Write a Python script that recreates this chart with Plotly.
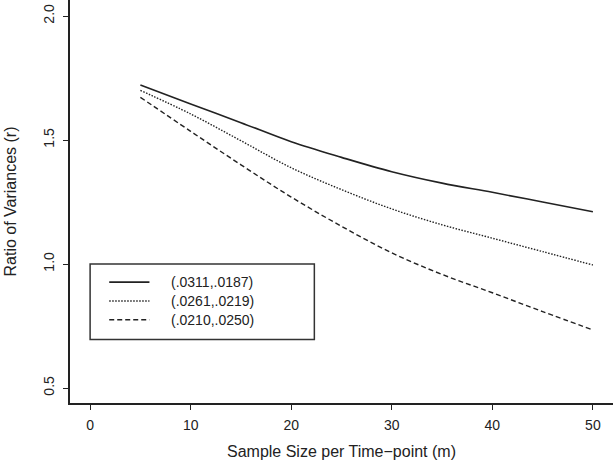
import plotly.graph_objects as go

# sample size per time-point
m = [5, 10, 15, 20, 25, 30, 35, 40, 45, 50]

# ratio of variances for each parameter pair
r_0311 = [1.722, 1.645, 1.570, 1.493, 1.430, 1.372, 1.326, 1.289, 1.250, 1.211]
r_0261 = [1.700, 1.605, 1.497, 1.388, 1.300, 1.222, 1.158, 1.104, 1.050, 0.996]
r_0210 = [1.672, 1.535, 1.400, 1.270, 1.152, 1.045, 0.958, 0.884, 0.808, 0.734]

labels = ["(.0311,.0187)", "(.0261,.0219)", "(.0210,.0250)"]
x_ticks = [0, 10, 20, 30, 40, 50]
y_ticks = [0.5, 1.0, 1.5, 2.0]
y_ticktext = ["0.5", "1.0", "1.5", "2.0"]

FONT = "Liberation Sans, Arial, Helvetica, sans-serif"
INK = "#222222"

series = [r_0311, r_0261, r_0210]
dashes = ["solid", "1.5px,1.5px", "5px,3px"]
widths = [1.6, 1.4, 1.4]

fig = go.Figure(
    data=[
        go.Scatter(x=m, y=ys, mode="lines", name=lab,
                   line=dict(color=INK, width=w, dash=d, shape="spline"),
                   showlegend=False)
        for ys, lab, d, w in zip(series, labels, dashes, widths)
    ]
)

# legend drawn like R's legend() box, placed at (0, 1.0)
shapes = [dict(type="rect", xref="x", yref="y", x0=0, x1=22.3, y0=0.696, y1=1.0,
               line=dict(color="#333333", width=1.5))]
annotations = []
for lab, d, w, yy in zip(labels, dashes, widths, [0.927, 0.851, 0.775]):
    shapes.append(dict(type="line", xref="x", yref="y", x0=1.9, x1=5.9, y0=yy, y1=yy,
                       line=dict(color=INK, width=w, dash=d)))
    annotations.append(dict(x=7.83, y=yy, xref="x", yref="y", text=lab,
                            showarrow=False, xanchor="left", yanchor="middle",
                            font=dict(family=FONT, size=14, color=INK)))

fig.update_layout(
    width=614, height=462,
    margin=dict(l=70, r=1, t=0, b=59, autoexpand=False),
    paper_bgcolor="white", plot_bgcolor="white",
    font=dict(family=FONT, size=14, color=INK),
    shapes=shapes, annotations=annotations,
    xaxis=dict(range=[-2, 52], tickvals=x_ticks, showgrid=False, zeroline=False,
               automargin=False,
               showline=True, linecolor=INK, linewidth=1.5,
               ticks="outside", ticklen=5, tickcolor=INK, tickwidth=1.2,
               ticklabelstandoff=3, tickfont=dict(size=14),
               title=dict(text="Sample Size per Time\u2212point (m)",
                          font=dict(size=16), standoff=14)),
    yaxis=dict(range=[0.4395, 2.0645], tickvals=y_ticks, ticktext=y_ticktext,
               tickangle=-90, showgrid=False, zeroline=False,
               automargin=False,
               showline=True, linecolor=INK, linewidth=1.5,
               ticks="outside", ticklen=5, tickcolor=INK, tickwidth=1.2,
               ticklabelstandoff=4, tickfont=dict(size=14),
               title=dict(text="Ratio of Variances (r)",
                          font=dict(size=16), standoff=20)),
)

# drop the page's default body margin so the figure sits at the window corner
fig.write_html("out.html", config={"displayModeBar": False},
               post_script="document.body.style.margin='0';")
